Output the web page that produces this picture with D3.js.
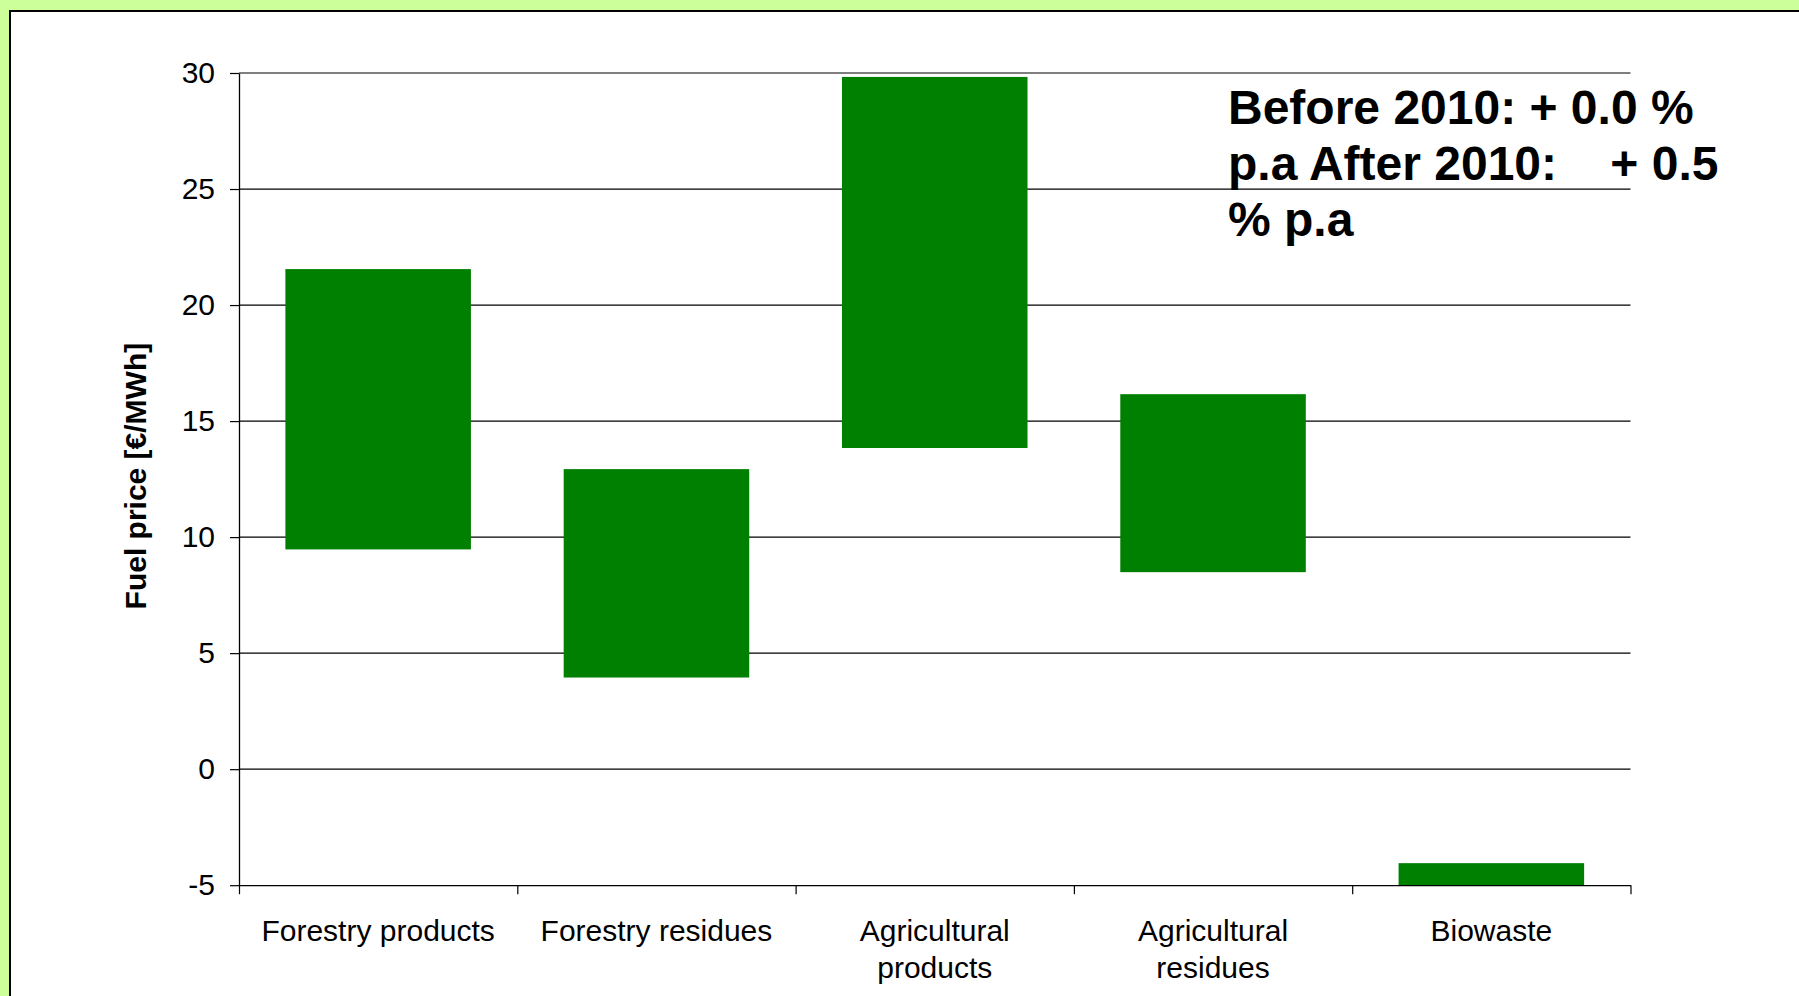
<!DOCTYPE html>
<html>
<head>
<meta charset="utf-8">
<title>Fuel price ranges</title>
<script src="https://cdn.jsdelivr.net/npm/d3@7/dist/d3.min.js"></script>
<style>
  html, body { margin: 0; padding: 0; background: #ccff99; overflow: hidden; }
  svg { display: block; font-family: "Liberation Sans", Arial, sans-serif; }
</style>
</head>
<body>
<svg id="chart" width="1799" height="996"></svg>
<script>
// Fuel categories and their price range (low / high) in €/MWh
const categories = ["Forestry products", "Forestry residues", "Agricultural products", "Agricultural residues", "Biowaste"];
const priceLow  = [9.47, 3.95, 13.84, 8.49, -5];
const priceHigh = [21.55, 12.93, 29.83, 16.16, -4.05];
const yTicks = [-5, 0, 5, 10, 15, 20, 25, 30];
const yTitle = "Fuel price [€/MWh]";
const noteLines = ["Before 2010: + 0.0 %", "p.a After 2010:    + 0.5", "% p.a"];

const W = 1799, H = 996;
const plot = { left: 239, right: 1630.5, top: 73, bottom: 885.2 };

const svg = d3.select("#chart");

// white panel with a dark frame on the light green page
svg.append("rect")
  .attr("x", 10).attr("y", 11)
  .attr("width", W + 50).attr("height", H + 50)
  .attr("fill", "#ffffff")
  .attr("stroke", "#000").attr("stroke-width", 2);

const y = d3.scaleLinear().domain([-5, 30]).range([plot.bottom, plot.top]);
const x = d3.scaleBand().domain(categories)
  .range([plot.left, plot.right])
  .paddingInner(1 / 3).paddingOuter(1 / 6);
const edge = d3.scaleLinear().domain([0, categories.length]).range([plot.left, plot.right]);

// horizontal gridlines
svg.append("g")
  .selectAll("line")
  .data(yTicks.filter(d => d !== -5))
  .join("line")
  .attr("x1", plot.left).attr("x2", plot.right)
  .attr("y1", d => y(d)).attr("y2", d => y(d))
  .attr("stroke", "#000").attr("stroke-width", 1.2);

// floating range bars
const rows = categories.map((c, i) => ({ cat: c, lo: priceLow[i], hi: priceHigh[i] }));
svg.append("g")
  .selectAll("rect")
  .data(rows)
  .join("rect")
  .attr("x", d => x(d.cat))
  .attr("width", x.bandwidth())
  .attr("y", d => y(d.hi))
  .attr("height", d => y(d.lo) - y(d.hi))
  .attr("fill", "#008000");

// y axis
const yAxis = svg.append("g")
  .attr("transform", `translate(${plot.left},0)`)
  .call(d3.axisLeft(y).tickValues(yTicks).tickSize(9).tickSizeOuter(0)
    .tickPadding(15).tickFormat(d => String(d)));
yAxis.select(".domain").attr("stroke", "#000").attr("stroke-width", 1.3);
yAxis.selectAll(".tick line").attr("stroke", "#000").attr("stroke-width", 1.2);
yAxis.selectAll(".tick text")
  .attr("font-family", "'Liberation Sans', Arial, sans-serif")
  .attr("font-size", 30).attr("fill", "#000");

// x axis: tick marks at category boundaries
const xAxis = svg.append("g")
  .attr("transform", `translate(0,${plot.bottom})`)
  .call(d3.axisBottom(edge).tickValues(d3.range(categories.length + 1))
    .tickSize(9).tickSizeOuter(0).tickFormat(""));
xAxis.select(".domain").attr("stroke", "#000").attr("stroke-width", 1.3);
xAxis.selectAll(".tick line").attr("stroke", "#000").attr("stroke-width", 1.2);

// category labels, wrapped to fit the category width
const maxLabel = x.step() * 0.9;
const labels = svg.append("g")
  .attr("font-size", 30).attr("fill", "#000").attr("text-anchor", "middle");
categories.forEach(cat => {
  const cx = x(cat) + x.bandwidth() / 2;
  const t = labels.append("text").attr("x", cx).attr("y", 940.5);
  const words = cat.split(" ");
  let line = [];
  let tspan = t.append("tspan").attr("x", cx).attr("dy", 0);
  words.forEach(w => {
    line.push(w);
    tspan.text(line.join(" "));
    if (tspan.node().getComputedTextLength() > maxLabel && line.length > 1) {
      line.pop();
      tspan.text(line.join(" "));
      line = [w];
      tspan = t.append("tspan").attr("x", cx).attr("dy", 37).text(w);
    }
  });
});

// y axis title
svg.append("text")
  .attr("transform", `translate(145.5,${(plot.top + plot.bottom) / 2 - 3}) rotate(-90)`)
  .attr("text-anchor", "middle")
  .attr("font-size", 30).attr("font-weight", "bold").attr("fill", "#000")
  .text(yTitle);

// growth-rate note
const note = svg.append("text")
  .attr("font-size", 48).attr("font-weight", "bold").attr("fill", "#000")
  .style("white-space", "pre");
noteLines.forEach((s, i) => {
  note.append("tspan").attr("x", 1228).attr("y", 123.5 + i * 56).text(s);
});
</script>
</body>
</html>
